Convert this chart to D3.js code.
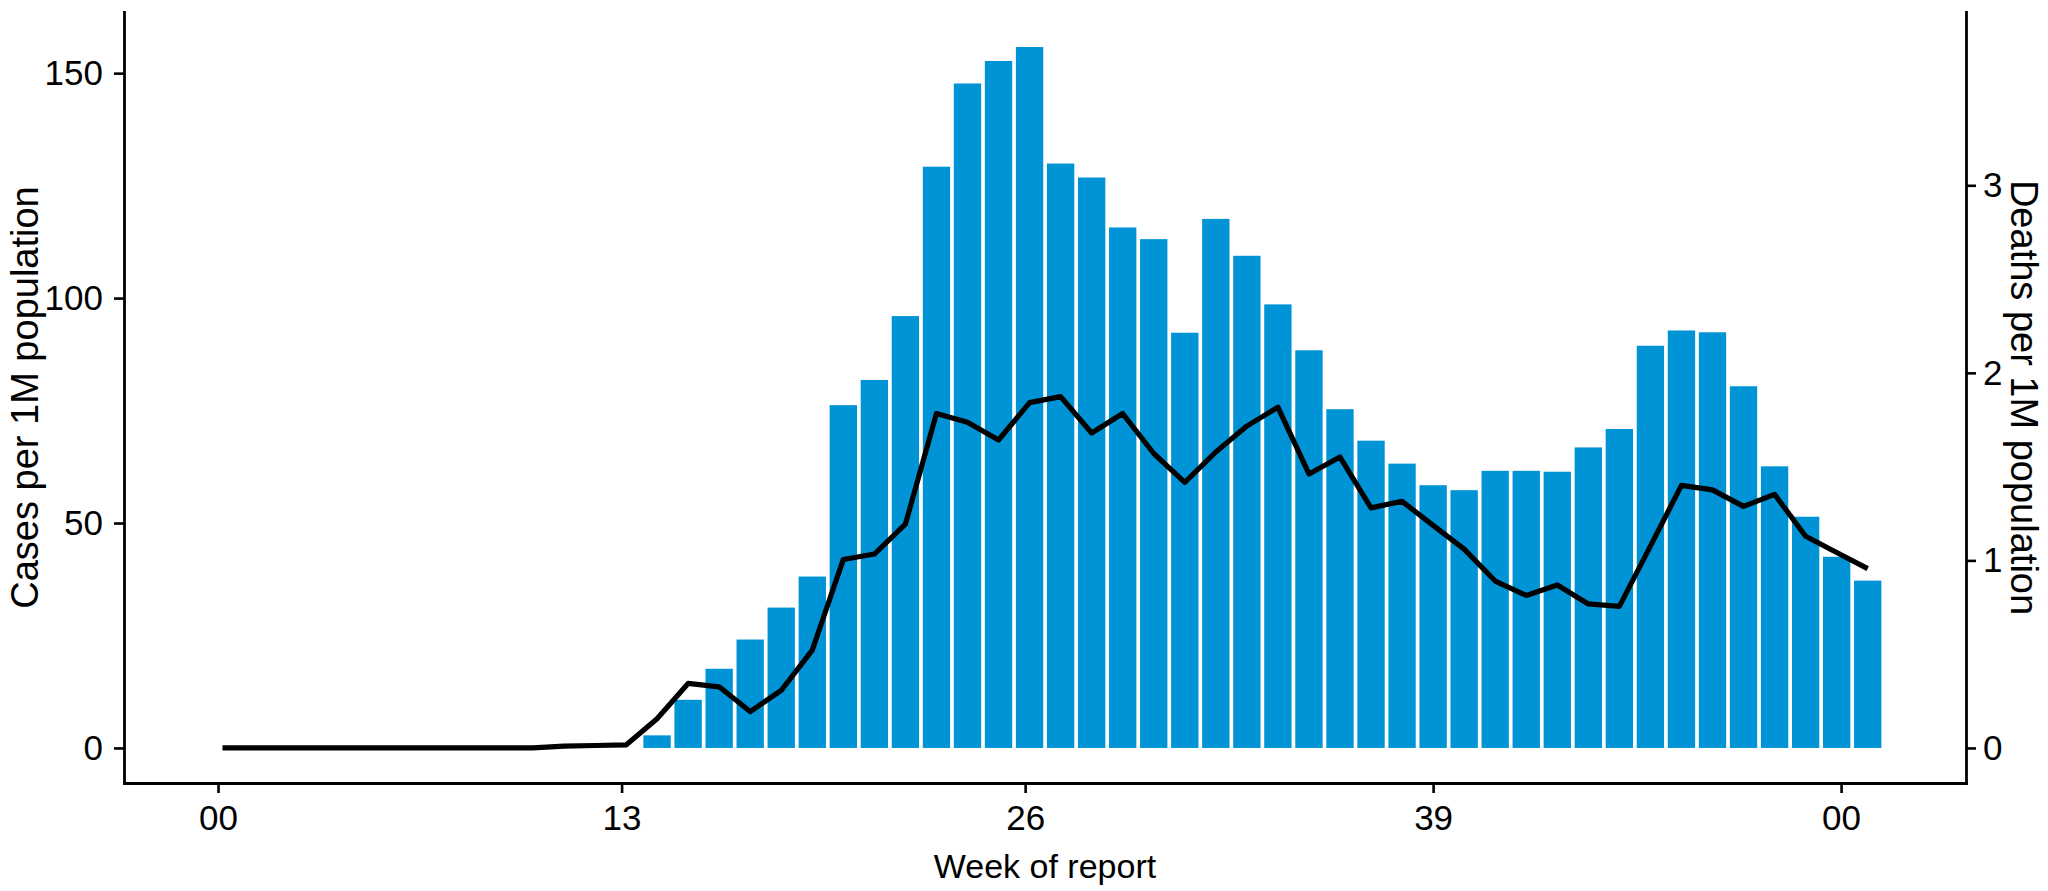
<!DOCTYPE html>
<html>
<head>
<meta charset="utf-8">
<script src="https://cdn.jsdelivr.net/npm/d3@7"></script>
<style>
  html, body { margin: 0; padding: 0; background: #ffffff; }
  svg { display: block; }
  text { font-family: "Liberation Sans", Arial, Helvetica, sans-serif; fill: #000; }
</style>
</head>
<body>
<svg id="chart" width="2048" height="891"></svg>
<script>
// ---- data (weekly, report date = Thursday of each week) ----
const weekDates = [
  "2020-01-02","2020-01-09","2020-01-16","2020-01-23","2020-01-30",
  "2020-02-06","2020-02-13","2020-02-20","2020-02-27",
  "2020-03-05","2020-03-12","2020-03-19","2020-03-26",
  "2020-04-02","2020-04-09","2020-04-16","2020-04-23","2020-04-30",
  "2020-05-07","2020-05-14","2020-05-21","2020-05-28",
  "2020-06-04","2020-06-11","2020-06-18","2020-06-25",
  "2020-07-02","2020-07-09","2020-07-16","2020-07-23","2020-07-30",
  "2020-08-06","2020-08-13","2020-08-20","2020-08-27",
  "2020-09-03","2020-09-10","2020-09-17","2020-09-24",
  "2020-10-01","2020-10-08","2020-10-15","2020-10-22","2020-10-29",
  "2020-11-05","2020-11-12","2020-11-19","2020-11-26",
  "2020-12-03","2020-12-10","2020-12-17","2020-12-24","2020-12-31",
  "2021-01-07"
];
// cases per 1M population (bars); null = no bar
const casesPerM = [
  null,null,null,null,null,null,null,null,null,null,null,null,null,null,
  2.8, 10.7, 17.6, 24.1, 31.2, 38.1, 76.2, 81.8, 96.0, 129.2,
  147.7, 152.7, 155.8, 129.9, 126.8, 115.7, 113.1, 92.3, 117.6, 109.4,
  98.6, 88.4, 75.3, 68.3, 63.2, 58.4, 57.3, 61.6, 61.6, 61.4,
  66.8, 70.9, 89.4, 92.8, 92.4, 80.4, 62.6, 51.4, 42.5, 37.2
];
// deaths per 1M population (line)
const deathsPerM = [
  0, 0, 0, 0, 0, 0, 0, 0, 0, 0, 0, 0.010, 0.013, 0.016,
  0.156, 0.344, 0.326, 0.194, 0.307, 0.522, 1.005, 1.034, 1.193, 1.783,
  1.737, 1.642, 1.841, 1.873, 1.679, 1.783, 1.570, 1.416, 1.578, 1.716,
  1.817, 1.461, 1.551, 1.280, 1.315, 1.187, 1.060, 0.890, 0.813, 0.869,
  0.768, 0.755, 1.076, 1.400, 1.376, 1.288, 1.352, 1.129, 1.042, 0.956
];
const xTickDates = ["2020-01-01","2020-04-01","2020-07-01","2020-10-01","2021-01-01"];
const yLeftTicks = [0, 50, 100, 150];
const yRightTicks = [0, 1, 2, 3];
const secAxisRatio = 41.69;   // cases units per death unit on the secondary axis
const xLabel = "Week of report";
const yLeftLabel = "Cases per 1M population";
const yRightLabel = "Deaths per 1M population";

// ---- layout ----
const W = 2048, H = 891;
const margin = {left: 124, right: 82, top: 12, bottom: 108};
const plotL = margin.left, plotR = W - margin.right;
const plotT = margin.top, plotB = H - margin.bottom;
const barColor = "#0094d6";
const tickFont = 35, xTitleFont = 34, yTitleFont = 38;

const parse = d3.utcParse("%Y-%m-%d");
const data = weekDates.map((d, i) => ({date: parse(d), cases: casesPerM[i], deaths: deathsPerM[i]}));

const padDays = 22.2;
const x = d3.scaleUtc()
  .domain([d3.utcHour.offset(data[0].date, -padDays * 24), d3.utcHour.offset(data[data.length - 1].date, padDays * 24)])
  .range([plotL, plotR]);

const maxCases = d3.max(casesPerM);
const yL = d3.scaleLinear()
  .domain([-0.05 * maxCases, 1.05 * maxCases])
  .range([plotB, plotT]);
const yR = d3.scaleLinear()
  .domain(yL.domain().map(v => v / secAxisRatio))
  .range([plotB, plotT]);

const svg = d3.select("#chart");
svg.append("rect").attr("width", W).attr("height", H).attr("fill", "#fff");

// bars
const barDays = 6.2;
const barW = x(d3.utcHour.offset(data[0].date, barDays * 24)) - x(data[0].date);
svg.append("g").selectAll("rect")
  .data(data.filter(d => d.cases != null))
  .join("rect")
  .attr("x", d => x(d.date) - barW / 2)
  .attr("width", barW)
  .attr("y", d => yL(d.cases))
  .attr("height", d => yL(0) - yL(d.cases))
  .attr("fill", barColor);

// line
const line = d3.line().x(d => x(d.date)).y(d => yR(d.deaths));
svg.append("path")
  .datum(data)
  .attr("d", line)
  .attr("fill", "none")
  .attr("stroke", "#000")
  .attr("stroke-width", 5.2)
  .attr("stroke-linejoin", "round");

// axes
function styleAxis(g) {
  g.selectAll("path.domain").attr("stroke", "#000").attr("stroke-width", 2.8).attr("stroke-linecap", "square");
  g.selectAll(".tick line").attr("stroke", "#000").attr("stroke-width", 2.6);
  g.selectAll(".tick text").attr("font-size", tickFont).attr("font-family", "Liberation Sans, Arial, sans-serif").attr("fill", "#000");
}
const fmtWeek = d3.utcFormat("%W");
svg.append("g")
  .attr("transform", `translate(0,${plotB})`)
  .call(d3.axisBottom(x).tickValues(xTickDates.map(parse)).tickFormat(fmtWeek).tickSize(10).tickSizeOuter(0).tickPadding(12))
  .call(styleAxis);
svg.append("g")
  .attr("transform", `translate(${plotL},0)`)
  .call(d3.axisLeft(yL).tickValues(yLeftTicks).tickFormat(d3.format("d")).tickSize(10).tickSizeOuter(0).tickPadding(11))
  .call(styleAxis);
svg.append("g")
  .attr("transform", `translate(${plotR},0)`)
  .call(d3.axisRight(yR).tickValues(yRightTicks).tickFormat(d3.format("d")).tickSize(10).tickSizeOuter(0).tickPadding(7))
  .call(styleAxis);

// titles
svg.append("text")
  .attr("x", (plotL + plotR) / 2).attr("y", 878)
  .attr("text-anchor", "middle").attr("font-size", xTitleFont)
  .text(xLabel);
svg.append("text")
  .attr("transform", `translate(38,${(plotT + plotB) / 2}) rotate(-90)`)
  .attr("text-anchor", "middle").attr("font-size", yTitleFont)
  .text(yLeftLabel);
svg.append("text")
  .attr("transform", `translate(2011,${(plotT + plotB) / 2}) rotate(90)`)
  .attr("text-anchor", "middle").attr("font-size", yTitleFont)
  .text(yRightLabel);
</script>
</body>
</html>
